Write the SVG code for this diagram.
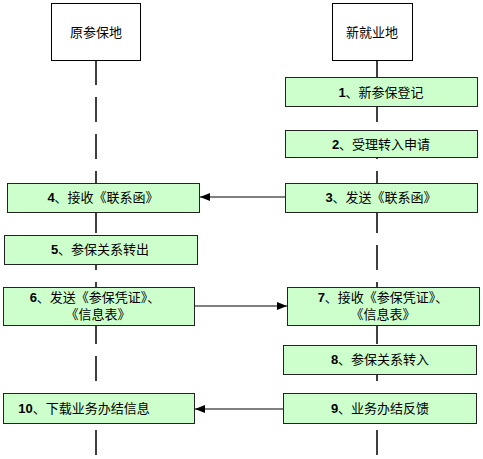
<svg xmlns="http://www.w3.org/2000/svg" width="483" height="459" viewBox="0 0 483 459">
<style>
.hdr{fill:#ffffff;stroke:#000;stroke-width:1}
.box{fill:#ccffcc;stroke:#222;stroke-width:1}
.life{stroke:#000;stroke-width:1.5;stroke-dasharray:25 12;fill:none}
.msg{stroke:#000;stroke-width:1;fill:none}
text{font-family:"Liberation Sans","Noto Sans CJK SC",sans-serif;font-size:13px;fill:#000;text-anchor:middle}
.n{font-weight:bold}
</style>
<defs>
<marker id="ah" markerWidth="10" markerHeight="8" refX="10" refY="4" orient="auto" markerUnits="userSpaceOnUse">
<path d="M0,0 L10,4 L0,8 Z" fill="#000"/>
</marker>
</defs>
<g id="lifelines">
<line class="life" x1="96" y1="60" x2="96" y2="459"/>
<line class="life" x1="377" y1="60" x2="377" y2="459"/>
</g>
<g id="connectors">
<line class="msg" x1="285" y1="197" x2="200" y2="197" marker-end="url(#ah)"/>
<line class="msg" x1="194" y1="306" x2="287" y2="306" marker-end="url(#ah)"/>
<line class="msg" x1="283" y1="409" x2="195" y2="409" marker-end="url(#ah)"/>
</g>
<g id="h1"><rect class="hdr" x="51.5" y="3.5" width="89" height="57"/><text x="96" y="37">原参保地</text></g>
<g id="h2"><rect class="hdr" x="332.5" y="3.5" width="80" height="57"/><text x="372" y="37">新就业地</text></g>
<g id="n1"><rect class="box" x="285.5" y="77.5" width="192" height="29"/><text x="381" y="97"><tspan class="n">1</tspan>、新参保登记</text></g>
<g id="n2"><rect class="box" x="285.5" y="130.5" width="192" height="27"/><text x="381" y="149"><tspan class="n">2</tspan>、受理转入申请</text></g>
<g id="n3"><rect class="box" x="285.5" y="183.5" width="192" height="29"/><text x="381" y="202"><tspan class="n">3</tspan>、发送《联系函》</text></g>
<g id="n4"><rect class="box" x="7.5" y="183.5" width="192" height="29"/><text x="103" y="202"><tspan class="n">4</tspan>、接收《联系函》</text></g>
<g id="n5"><rect class="box" x="4.5" y="235.5" width="193" height="29"/><text x="100" y="254"><tspan class="n">5</tspan>、参保关系转出</text></g>
<g id="n6"><rect class="box" x="3.5" y="287.5" width="191" height="38"/><text x="95" y="302"><tspan class="n">6</tspan>、发送《参保凭证》、</text><text x="98" y="319">《信息表》</text></g>
<g id="n7"><rect class="box" x="287.5" y="287.5" width="192" height="38"/><text x="383" y="302"><tspan class="n">7</tspan>、接收《参保凭证》、</text><text x="383" y="319">《信息表》</text></g>
<g id="n8"><rect class="box" x="283.5" y="345.5" width="193" height="29"/><text x="380" y="364"><tspan class="n">8</tspan>、参保关系转入</text></g>
<g id="n9"><rect class="box" x="283.5" y="393.5" width="193" height="30"/><text x="380" y="413"><tspan class="n">9</tspan>、业务办结反馈</text></g>
<g id="n10"><rect class="box" x="3.5" y="393.5" width="191" height="30"/><text x="84" y="413"><tspan class="n">10</tspan>、下载业务办结信息</text></g>
</svg>
